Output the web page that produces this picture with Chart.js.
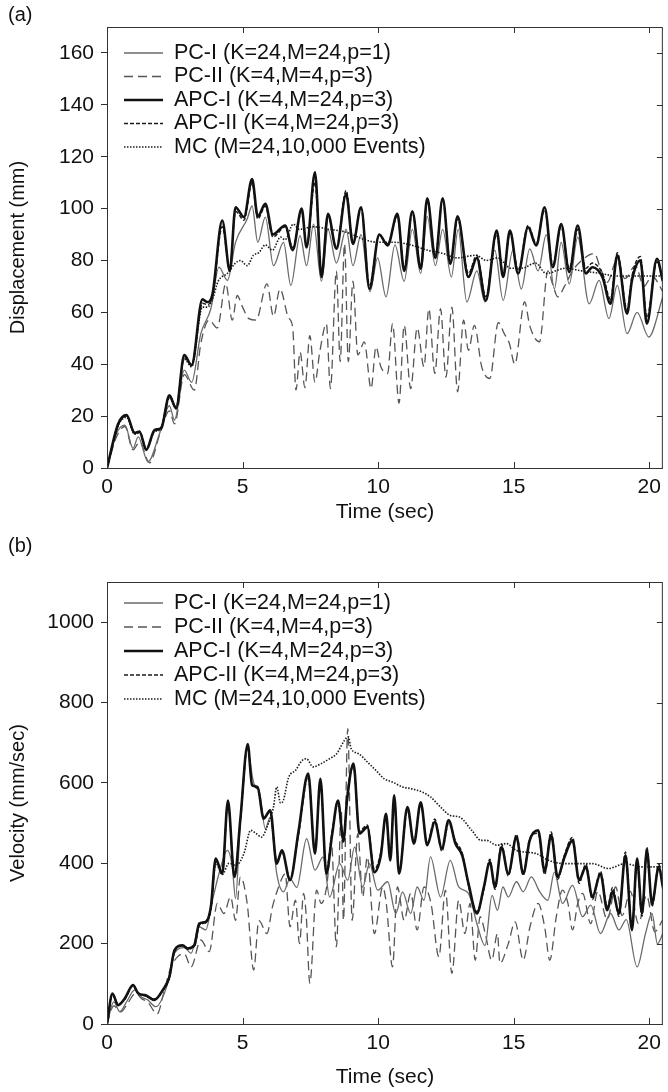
<!DOCTYPE html>
<html>
<head>
<meta charset="utf-8">
<title>Displacement and velocity</title>
<script src="https://cdn.jsdelivr.net/npm/chart.js@4.4.1/dist/chart.umd.min.js"></script>
<style>
  html, body { margin: 0; padding: 0; background: #fff; }
  canvas { display: block; }
</style>
</head>
<body>
<canvas id="dispChart" width="668" height="530"></canvas>
<canvas id="velChart" width="668" height="562"></canvas>
<script>
// series labels
const seriesLabels = [
    "PC-I (K=24,M=24,p=1)",
    "PC-II (K=4,M=4,p=3)",
    "APC-I (K=4,M=24,p=3)",
    "APC-II (K=4,M=24,p=3)",
    "MC (M=24,10,000 Events)"
];
const xTicks = [0, 5, 10, 15, 20];
const dispTicks = [0, 20, 40, 60, 80, 100, 120, 140, 160];
const velTicks = [0, 200, 400, 600, 800, 1000];

// (a) displacement, [time (sec), mm]
const pc1Disp = [[0,0],[0.35,13.3],[0.66,16.5],[0.96,7.6],[1.15,12],[1.51,2.4],[1.94,13.3],[2.3,24],[2.49,18.5],[2.85,37.7],[3.12,33],[3.46,51.8],[3.83,61.4],[4.13,77.4],[4.44,72.3],[4.74,87],[5.17,96],[5.35,101],[5.56,87],[5.84,96.7],[6.14,78],[6.51,87],[6.78,70.4],[7.12,89.6],[7.36,78],[7.62,94],[7.91,72],[8.15,92],[8.46,79],[8.82,92],[9.07,78],[9.37,90],[9.7,68],[9.98,81],[10.29,66],[10.62,86],[10.96,72],[11.26,92],[11.57,75],[11.81,97],[12.11,78],[12.38,92],[12.7,73.6],[12.95,92],[13.27,64],[13.64,76],[13.94,64],[14.3,84],[14.61,64.6],[14.97,84],[15.28,69],[15.59,84.5],[15.9,76],[16.2,90],[16.5,69],[16.75,87],[17.05,71],[17.36,89],[17.78,63.3],[18.15,72.3],[18.51,57.6],[18.82,70.4],[19.18,51.8],[19.55,60],[19.98,50.5],[20.5,66]];
const pc2Disp = [[0,0],[0.35,12],[0.66,16],[0.96,7],[1.2,10],[1.57,2],[1.94,12.8],[2.3,22],[2.49,17],[2.85,36],[3.22,30],[3.46,48],[3.77,57],[4.07,54],[4.38,71],[4.62,57],[4.8,66.5],[5.0,62],[5.23,57.6],[5.5,57],[5.9,71],[6.14,58.5],[6.38,69],[6.69,58],[6.85,54],[6.97,30],[7.12,44.7],[7.3,31],[7.48,51],[7.67,33],[7.85,45],[8.09,55.6],[8.24,30.6],[8.46,76],[8.6,41],[8.76,86.4],[8.9,41],[9.07,72],[9.25,43.6],[9.49,48.6],[9.74,30.6],[9.92,46.7],[10.1,39],[10.35,36.4],[10.53,55.6],[10.77,25],[10.96,55],[11.2,30.6],[11.44,54],[11.69,39],[11.87,61.4],[12.09,36.4],[12.3,61.4],[12.5,35],[12.72,62],[12.93,29.4],[13.15,57],[13.33,45.4],[13.55,55],[13.82,39],[14.12,34.5],[14.43,56],[14.65,51.8],[14.84,48],[15.04,40],[15.4,64],[15.6,54.5],[15.95,48.6],[16.26,76],[16.45,70.4],[16.62,66],[16.87,70],[17.17,76],[17.5,80],[17.97,82.7],[18.2,77],[18.45,71.6],[18.8,80],[19.1,73],[19.49,78],[19.8,70],[20.1,74],[20.5,68]];
const apc1Disp = [[0,0],[0.41,17],[0.72,20.4],[1.02,13.5],[1.2,14],[1.45,7],[1.75,14.6],[2.0,15.4],[2.3,28],[2.55,23],[2.85,43.5],[3.12,39.6],[3.52,65],[3.7,64],[3.89,67],[4.25,95.4],[4.53,76],[4.74,100.5],[5.05,96.7],[5.35,111.4],[5.56,97],[5.84,101.8],[6.12,90],[6.57,93.5],[6.85,84],[7.18,100],[7.36,85],[7.67,114],[7.91,73.6],[8.15,98],[8.46,84.5],[8.82,105.6],[9.07,86.4],[9.37,100.5],[9.68,69],[10.04,90],[10.35,85.8],[10.71,98],[10.96,76],[11.26,99],[11.57,76.8],[11.81,104],[12.11,81],[12.38,104],[12.66,78.7],[12.93,97],[13.33,73.6],[13.64,81],[13.97,64.5],[14.37,91.5],[14.61,73.6],[14.86,91.5],[15.16,75],[15.53,92.8],[15.83,85.8],[16.14,100.5],[16.44,77.4],[16.75,94],[17.05,75.5],[17.36,93.5],[17.66,75],[17.9,77.4],[18.27,73.6],[18.57,63.3],[18.82,82],[19.18,59.5],[19.36,72.3],[19.67,80],[19.91,55.6],[20.28,80.6],[20.5,72]];
const apc2Disp = [[0,0],[0.41,16.5],[0.72,20],[1.02,13.8],[1.2,14.2],[1.45,7.5],[1.75,14.2],[2.0,15.8],[2.3,27.5],[2.55,23.5],[2.85,42.5],[3.12,40],[3.52,63.5],[3.7,63],[3.89,66],[4.25,93],[4.53,77],[4.74,99],[5.05,95.5],[5.35,110],[5.56,96],[5.84,101],[6.12,89],[6.57,93],[6.85,85],[7.18,99],[7.36,86],[7.67,110],[7.91,75],[8.15,97],[8.46,85],[8.82,107],[9.07,87],[9.37,100],[9.68,70.5],[10.04,89.5],[10.35,86.5],[10.71,97],[10.96,77],[11.26,98.5],[11.57,77.5],[11.81,103],[12.11,82],[12.38,103.5],[12.66,79.5],[12.93,96],[13.33,75],[13.64,82],[13.97,66],[14.37,90],[14.61,75],[14.86,90.5],[15.16,76],[15.53,93.5],[15.83,86.5],[16.14,99.5],[16.44,78.5],[16.75,93],[17.05,77],[17.36,92],[17.66,77],[17.9,79],[18.27,75],[18.57,65],[18.82,83],[19.18,61],[19.36,74],[19.67,81.5],[19.91,58],[20.28,79.5],[20.5,73]];
const mcDisp = [[0,0],[0.4,16],[0.72,19.5],[1.02,13],[1.2,13.5],[1.45,7],[1.75,14],[2.0,15],[2.3,27],[2.55,23],[2.85,42],[3.12,39],[3.52,62],[3.7,62],[3.89,65],[4.1,72],[4.44,75],[4.74,79],[4.92,80],[5.17,78],[5.4,82],[5.6,83],[5.84,86],[6.1,84],[6.4,89],[6.57,88],[6.87,94],[7.1,92],[7.6,93],[8.2,92],[8.8,91],[9.5,88],[10.0,87],[10.6,87],[11.2,86],[11.8,84],[12.4,82.7],[12.9,81],[13.6,82],[14.0,80],[14.4,81],[14.9,77],[15.3,77],[15.8,79],[16.2,75],[16.9,77],[17.5,76],[18.2,75],[18.8,74],[19.5,74],[20.5,74]];

// (b) velocity, [time (sec), mm/sec]
const pc1Vel = [[0,0],[0.25,55],[0.47,31],[0.72,55],[1.02,85],[1.27,67],[1.5,60],[1.8,43],[2.2,93],[2.49,176],[2.85,190],[3.1,176],[3.4,242],[3.64,234],[3.89,308],[4.13,374],[4.44,432],[4.62,391],[4.74,312],[4.92,507],[5.17,685],[5.42,598],[5.6,585],[5.84,486],[6.02,515],[6.26,374],[6.51,329],[6.75,362],[7.0,340],[7.36,461],[7.67,383],[7.97,416],[8.21,316],[8.58,399],[8.88,358],[9.13,440],[9.43,341],[9.68,399],[9.98,333],[10.35,354],[10.65,275],[10.9,329],[11.2,275],[11.44,341],[11.69,308],[11.93,416],[12.3,316],[12.66,407],[12.97,341],[13.33,325],[13.64,250],[13.94,195],[14.2,320],[14.4,283],[14.6,341],[14.8,316],[15.1,354],[15.35,329],[15.65,366],[15.95,330],[16.26,308],[16.5,378],[16.8,300],[17.17,345],[17.54,267],[17.84,296],[18.2,225],[18.57,275],[18.88,234],[19.15,260],[19.55,142],[19.86,225],[20.1,275],[20.3,200],[20.5,225]];
const pc2Vel = [[0,0],[0.25,45],[0.5,30],[0.75,50],[1.05,76],[1.3,62],[1.5,55],[1.85,25],[2.1,80],[2.35,140],[2.6,167],[2.85,175],[3.1,142],[3.46,209],[3.77,180],[4.07,300],[4.31,275],[4.56,316],[4.74,258],[4.92,366],[5.17,300],[5.41,134],[5.6,258],[5.9,225],[6.1,291],[6.33,341],[6.57,374],[6.75,242],[6.95,308],[7.1,200],[7.25,325],[7.35,267],[7.48,101],[7.73,333],[7.9,300],[8.1,341],[8.28,449],[8.46,192],[8.64,532],[8.72,258],[8.88,735],[9.04,258],[9.25,474],[9.43,316],[9.6,416],[9.86,225],[10.17,341],[10.3,300],[10.53,142],[10.71,341],[10.96,258],[11.2,325],[11.44,234],[11.69,341],[11.95,300],[12.24,167],[12.48,333],[12.72,126],[12.97,308],[13.2,225],[13.39,300],[13.58,159],[13.76,267],[13.95,225],[14.19,159],[14.4,225],[14.49,151],[14.8,200],[15.05,254],[15.35,159],[15.6,242],[15.9,300],[16.14,242],[16.33,159],[16.57,267],[16.8,333],[17.0,300],[17.17,234],[17.36,300],[17.54,325],[17.84,250],[18.1,330],[18.45,260],[18.76,341],[19.0,270],[19.3,330],[19.6,250],[19.9,320],[20.2,230],[20.5,260]];
const apc1Vel = [[0,0],[0.2,76],[0.41,47],[0.66,64],[0.96,97],[1.15,76],[1.4,72],[1.75,60],[2.06,85],[2.3,117],[2.49,184],[2.79,196],[2.97,188],[3.22,196],[3.4,250],[3.64,254],[3.83,291],[4.01,412],[4.25,374],[4.46,556],[4.7,366],[4.92,511],[5.19,697],[5.35,594],[5.55,590],[5.78,511],[6.02,532],[6.26,399],[6.45,432],[6.75,358],[7.06,478],[7.42,623],[7.67,424],[7.87,610],[8.09,374],[8.3,470],[8.52,556],[8.72,457],[8.85,556],[9.09,648],[9.31,474],[9.6,490],[9.86,378],[10.1,420],[10.29,523],[10.45,407],[10.59,569],[10.77,374],[11.08,540],[11.32,449],[11.57,552],[11.81,445],[12.09,503],[12.35,437],[12.6,507],[12.85,449],[13.1,420],[13.33,350],[13.64,275],[13.9,341],[14.12,403],[14.31,341],[14.55,440],[14.8,374],[15.1,465],[15.35,374],[15.59,457],[15.9,482],[16.14,380],[16.38,470],[16.62,366],[16.87,415],[17.17,457],[17.41,358],[17.66,391],[17.9,316],[18.2,374],[18.45,283],[18.65,330],[18.88,275],[19.12,420],[19.36,234],[19.55,412],[19.73,275],[19.91,432],[20.1,300],[20.35,391],[20.5,341]];
const apc2Vel = [[0,0],[0.2,72],[0.41,50],[0.66,62],[0.96,95],[1.15,78],[1.4,70],[1.75,62],[2.06,83],[2.3,115],[2.49,180],[2.79,194],[2.97,190],[3.22,192],[3.4,245],[3.64,256],[3.83,285],[4.01,405],[4.25,378],[4.46,548],[4.7,372],[4.92,505],[5.19,690],[5.35,598],[5.55,585],[5.78,515],[6.02,528],[6.26,405],[6.45,428],[6.75,362],[7.06,470],[7.42,615],[7.67,430],[7.87,600],[8.09,380],[8.3,478],[8.52,548],[8.72,450],[8.85,565],[9.09,640],[9.31,480],[9.6,495],[9.86,385],[10.1,428],[10.29,515],[10.45,412],[10.59,560],[10.77,380],[11.08,532],[11.32,455],[11.57,545],[11.81,450],[12.09,510],[12.35,430],[12.6,500],[12.85,455],[13.1,425],[13.33,345],[13.64,280],[13.9,335],[14.12,410],[14.31,335],[14.55,448],[14.8,368],[15.1,472],[15.35,370],[15.59,462],[15.9,475],[16.14,372],[16.38,478],[16.62,360],[16.87,420],[17.17,465],[17.41,350],[17.66,398],[17.9,310],[18.2,380],[18.45,290],[18.65,340],[18.88,268],[19.12,428],[19.36,240],[19.55,405],[19.73,268],[19.91,440],[20.1,292],[20.35,398],[20.5,335]];
const mcVel = [[0,0],[0.2,74],[0.41,48],[0.66,63],[0.96,96],[1.15,76],[1.4,71],[1.75,60],[2.06,84],[2.3,116],[2.49,182],[2.79,194],[2.97,187],[3.22,194],[3.4,247],[3.64,252],[3.83,288],[4.01,400],[4.25,372],[4.5,400],[4.75,395],[5.05,424],[5.3,482],[5.5,474],[5.7,465],[5.9,490],[6.14,540],[6.26,590],[6.4,550],[6.5,556],[6.7,614],[6.95,631],[7.2,656],[7.36,660],[7.6,640],[7.9,648],[8.2,660],[8.46,672],[8.76,706],[8.9,715],[9.0,686],[9.3,672],[9.6,652],[9.92,631],[10.23,610],[10.53,602],[10.9,590],[11.26,585],[11.63,577],[11.93,565],[12.3,540],[12.66,519],[13.0,515],[13.45,482],[13.8,457],[14.0,457],[14.37,445],[14.73,449],[15.1,432],[15.83,424],[16.3,407],[16.9,399],[17.4,399],[17.9,399],[18.5,387],[19.1,399],[19.73,391],[20.2,391],[20.5,391]];

Chart.defaults.font.family = "'Liberation Sans', Arial, sans-serif";
Chart.defaults.font.size = 20;
Chart.defaults.color = "#111";

const toXY = (pairs) => pairs.map(p => ({ x: p[0], y: p[1] }));

// line looks, same order as seriesLabels
const looks = [
    { borderColor: "#6a6a6a", borderWidth: 1.3, borderDash: [], order: 3 },
    { borderColor: "#555555", borderWidth: 1.3, borderDash: [9, 5], order: 4 },
    { borderColor: "#111111", borderWidth: 2.6, borderDash: [], order: 0 },
    { borderColor: "#1c1c1c", borderWidth: 1.5, borderDash: [4, 2], order: 1 },
    { borderColor: "#1c1c1c", borderWidth: 1.6, borderDash: [1.5, 1.5], order: 2 }
];

const makeDatasets = (seriesList) => seriesList.map((s, i) => ({
    label: seriesLabels[i],
    data: toXY(s),
    borderColor: looks[i].borderColor,
    borderWidth: looks[i].borderWidth,
    borderDash: looks[i].borderDash,
    order: looks[i].order,
    pointRadius: 0,
    fill: false,
    cubicInterpolationMode: "monotone"
}));

// frame, inside ticks, legend and panel letter
const framePlugin = {
    id: "frame",
    afterDatasetsDraw(chart, args, opts) {
        const ctx = chart.ctx;
        const a = chart.chartArea;
        const sx = chart.scales.x;
        const sy = chart.scales.y;
        ctx.save();
        ctx.strokeStyle = "#333";
        ctx.lineWidth = 1;
        ctx.setLineDash([]);
        ctx.strokeRect(a.left + 0.5, a.top + 0.5, a.right - a.left - 1, a.bottom - a.top);
        ctx.beginPath();
        sx.ticks.forEach(t => {
            const x = Math.round(sx.getPixelForValue(t.value)) + 0.5;
            ctx.moveTo(x, a.bottom); ctx.lineTo(x, a.bottom - 6);
            ctx.moveTo(x, a.top); ctx.lineTo(x, a.top + 6);
        });
        sy.ticks.forEach(t => {
            const y = Math.round(sy.getPixelForValue(t.value)) + 0.5;
            ctx.moveTo(a.right, y); ctx.lineTo(a.right - 6, y);
        });
        ctx.stroke();

        ctx.font = "21.5px 'Liberation Sans', Arial, sans-serif";
        ctx.textBaseline = "middle";
        ctx.textAlign = "left";
        chart.data.datasets.forEach((ds, i) => {
            const y = a.top + opts.legendTop + i * opts.legendGap;
            ctx.strokeStyle = ds.borderColor;
            ctx.lineWidth = ds.borderWidth;
            ctx.setLineDash(ds.borderDash);
            ctx.beginPath();
            ctx.moveTo(a.left + 17, y);
            ctx.lineTo(a.left + 56, y);
            ctx.stroke();
            ctx.setLineDash([]);
            ctx.fillStyle = "#111";
            ctx.fillText(ds.label, a.left + 67, y);
        });
        ctx.font = "20px 'Liberation Sans', Arial, sans-serif";
        ctx.fillText(opts.panel, 8, opts.panelY);
        ctx.restore();
    }
};

const makeOptions = (cfg) => ({
    responsive: false,
    animation: false,
    layout: { padding: { top: cfg.top, right: 1, left: 0, bottom: 0 } },
    plugins: {
        legend: { display: false },
        tooltip: { enabled: false },
        frame: { legendTop: cfg.legendTop, legendGap: cfg.legendGap, panel: cfg.panel, panelY: cfg.panelY }
    },
    scales: {
        x: {
            type: "linear",
            min: 0,
            max: 20.5,
            afterBuildTicks: (scale) => { scale.ticks = xTicks.map(v => ({ value: v })); },
            afterFit: (scale) => { scale.height = cfg.xHeight; },
            ticks: { padding: 7, includeBounds: false, color: "#111", font: { size: 21 },
                callback: (v) => String(v) },
            grid: { display: true, drawOnChartArea: false, drawTicks: false },
            border: { display: false },
            title: { display: true, text: "Time (sec)", color: "#111", font: { size: 21 },
                padding: { top: 0, bottom: cfg.titlePad } }
        },
        y: {
            min: 0,
            max: cfg.yMax,
            afterBuildTicks: (scale) => { scale.ticks = cfg.yTicks.map(v => ({ value: v })); },
            afterFit: (scale) => { scale.width = 107; },
            ticks: { padding: 7, includeBounds: false, color: "#111", font: { size: 21 },
                callback: (v) => String(v) },
            grid: { drawOnChartArea: false, drawTicks: true, tickLength: 6, color: "#333" },
            border: { display: false },
            title: { display: true, text: cfg.yTitle, color: "#111", padding: { top: 6, bottom: 0 } }
        }
    }
});

new Chart(document.getElementById("dispChart"), {
    type: "line",
    data: { datasets: makeDatasets([pc1Disp, pc2Disp, apc1Disp, apc2Disp, mcDisp]) },
    options: makeOptions({ top: 27, xHeight: 62, titlePad: 5, yMax: 170, yTicks: dispTicks,
        yTitle: "Displacement (mm)", legendTop: 26, legendGap: 23.5, panel: "(a)", panelY: 15 }),
    plugins: [framePlugin]
});

new Chart(document.getElementById("velChart"), {
    type: "line",
    data: { datasets: makeDatasets([pc1Vel, pc2Vel, apc1Vel, apc2Vel, mcVel]) },
    options: makeOptions({ top: 52, xHeight: 68, titlePad: 2, yMax: 1100, yTicks: velTicks,
        yTitle: "Velocity (mm/sec)", legendTop: 21, legendGap: 24, panel: "(b)", panelY: 16 }),
    plugins: [framePlugin]
});
</script>
</body>
</html>
